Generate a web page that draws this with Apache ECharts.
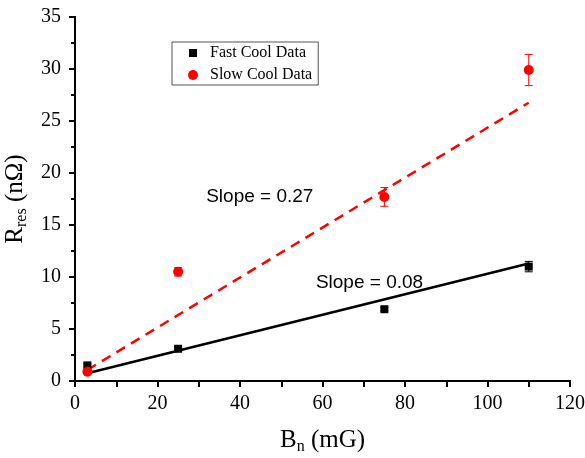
<!DOCTYPE html>
<html>
<head>
<meta charset="utf-8">
<script src="https://cdn.jsdelivr.net/npm/echarts@6/dist/echarts.min.js"></script>
<style>
  html, body { margin: 0; padding: 0; background: #fff; }
  #chart { width: 585px; height: 458px; }
</style>
</head>
<body>
<div id="chart"></div>
<script>
// Measured residual resistance vs. trapped field
const fieldMG      = [3, 25, 75, 110];
const fastCoolR    = [1.5, 3.1, 6.9, 11.0];
const fastCoolErr  = [0.15, 0.2, 0.15, 0.5];
const slowCoolR    = [0.9, 10.5, 17.7, 29.9];
const slowCoolErr  = [0.15, 0.4, 0.9, 1.5];

// Linear fit end points
const fitX         = [3, 110];
const fastFitR     = [0.74, 11.3];
const slowFitR     = [1.06, 26.76];

const fastSlopeText = 'Slope = 0.08';
const slowSlopeText = 'Slope = 0.27';

const xTicks = [0, 20, 40, 60, 80, 100, 120];
const yTicks = [0, 5, 10, 15, 20, 25, 30, 35];

const SERIF = '"Liberation Serif", "Times New Roman", serif';
const SANS = '"Liberation Sans", Arial, sans-serif';

const pairs = (xs, ys) => xs.map((x, i) => [x, ys[i]]);
const errRows = (xs, ys, es) => xs.map((x, i) => [x, ys[i] - es[i], ys[i] + es[i]]);

function errorBar(color) {
  return function (params, api) {
    const top = api.coord([api.value(0), api.value(2)]);
    const bot = api.coord([api.value(0), api.value(1)]);
    const cap = 4;
    const style = { stroke: color, lineWidth: 1 };
    return {
      type: 'group',
      children: [
        { type: 'line', shape: { x1: top[0], y1: top[1], x2: bot[0], y2: bot[1] }, style },
        { type: 'line', shape: { x1: top[0] - cap, y1: top[1], x2: top[0] + cap, y2: top[1] }, style },
        { type: 'line', shape: { x1: bot[0] - cap, y1: bot[1], x2: bot[0] + cap, y2: bot[1] }, style }
      ]
    };
  };
}

const chart = echarts.init(document.getElementById('chart'), null, { renderer: 'canvas' });

const axisLine = { show: true, lineStyle: { color: '#000', width: 2 } };

chart.setOption({
  backgroundColor: '#fff',
  animation: false,
  grid: { left: 75, right: 15, top: 17, bottom: 77, containLabel: false, outerBoundsMode: 'none' },
  legend: {
    orient: 'vertical',
    left: 172,
    top: 42,
    padding: [3, 6, 2, 15],
    itemGap: 6,
    itemWidth: 10,
    itemHeight: 10,
    borderColor: '#555',
    borderWidth: 1,
    data: [
      { name: 'Fast Cool Data', icon: 'rect', itemStyle: { color: '#000', borderColor: '#fff', borderWidth: 2, opacity: 1 } },
      { name: 'Slow Cool Data', icon: 'circle', itemStyle: { color: '#ff0000', opacity: 1 } }
    ],
    textStyle: { fontFamily: SERIF, fontSize: 16, color: '#000', lineHeight: 14, padding: [0, 0, 0, 7] }
  },
  xAxis: [
    {
      type: 'value',
      min: xTicks[0],
      max: xTicks[xTicks.length - 1],
      interval: xTicks[1] - xTicks[0],
      name: '{m|B}{s|n}{m| (mG)}',
      nameLocation: 'middle',
      nameGap: 44,
      nameTextStyle: {
        color: '#000',
        rich: {
          m: { fontFamily: SERIF, fontSize: 25, lineHeight: 30, color: '#000' },
          s: { fontFamily: SERIF, fontSize: 16, lineHeight: 16, verticalAlign: 'bottom', color: '#000' }
        }
      },
      axisLine: axisLine,
      axisTick: { show: true, inside: false, length: 6, lineStyle: { color: '#000', width: 2 } },
      minorTick: { show: true, splitNumber: 2, length: 4, lineStyle: { color: '#000', width: 2 } },
      axisLabel: { color: '#000', fontFamily: SERIF, fontSize: 20, margin: 13 },
      splitLine: { show: false }
    },
    {
      type: 'value',
      position: 'top',
      min: xTicks[0],
      max: xTicks[xTicks.length - 1],
      interval: 10,
      axisLine: axisLine,
      axisTick: { show: true, inside: true, length: 6, lineStyle: { color: '#000', width: 2 } },
      axisLabel: { show: false },
      splitLine: { show: false }
    }
  ],
  yAxis: [
    {
      type: 'value',
      min: yTicks[0],
      max: yTicks[yTicks.length - 1],
      interval: yTicks[1] - yTicks[0],
      name: '{m|R}{s|res}{m| (nΩ)}',
      nameLocation: 'middle',
      nameRotate: 90,
      nameGap: 43,
      nameTextStyle: {
        color: '#000',
        rich: {
          m: { fontFamily: SERIF, fontSize: 25, lineHeight: 30, color: '#000' },
          s: { fontFamily: SERIF, fontSize: 16, lineHeight: 16, verticalAlign: 'bottom', color: '#000' }
        }
      },
      axisLine: axisLine,
      axisTick: { show: true, inside: false, length: 6, lineStyle: { color: '#000', width: 2 } },
      minorTick: { show: true, splitNumber: 2, length: 4, lineStyle: { color: '#000', width: 2 } },
      axisLabel: { color: '#000', fontFamily: SERIF, fontSize: 20, margin: 14 },
      splitLine: { show: false }
    },
    {
      type: 'value',
      position: 'right',
      min: yTicks[0],
      max: yTicks[yTicks.length - 1],
      interval: yTicks[1] - yTicks[0],
      axisLine: axisLine,
      axisTick: { show: false },
      axisLabel: { show: false },
      splitLine: { show: false }
    }
  ],
  series: [
    {
      name: 'Fast fit',
      type: 'line',
      data: pairs(fitX, fastFitR),
      symbol: 'none',
      lineStyle: { color: '#000', width: 2.5 },
      z: 2
    },
    {
      name: 'Slow fit',
      type: 'line',
      data: pairs(fitX, slowFitR),
      symbol: 'none',
      lineStyle: { color: '#ff0000', width: 2.5, type: [10, 7] },
      z: 2
    },
    {
      name: 'Fast err',
      type: 'custom',
      renderItem: errorBar('#000'),
      data: errRows(fieldMG, fastCoolR, fastCoolErr),
      z: 3
    },
    {
      name: 'Slow err',
      type: 'custom',
      renderItem: errorBar('#ff0000'),
      data: errRows(fieldMG, slowCoolR, slowCoolErr),
      z: 3
    },
    {
      name: 'Fast Cool Data',
      type: 'scatter',
      symbol: 'rect',
      symbolSize: 8,
      itemStyle: { color: '#000', opacity: 1 },
      data: pairs(fieldMG, fastCoolR),
      z: 4
    },
    {
      name: 'Slow Cool Data',
      type: 'scatter',
      symbol: 'circle',
      symbolSize: 10,
      itemStyle: { color: '#ff0000', opacity: 1 },
      data: pairs(fieldMG, slowCoolR),
      z: 5
    },
    {
      name: 'Slope labels',
      type: 'scatter',
      symbolSize: 0,
      silent: true,
      z: 6,
      itemStyle: { opacity: 1 },
      label: {
        show: true,
        position: 'right',
        distance: 0,
        fontFamily: SANS,
        fontSize: 19,
        color: '#000',
        opacity: 1,
        formatter: (p) => p.data.text
      },
      data: [
        { value: [31.8, 17.7], text: slowSlopeText },
        { value: [58.4, 9.4], text: fastSlopeText }
      ]
    }
  ]
});
</script>
</body>
</html>
